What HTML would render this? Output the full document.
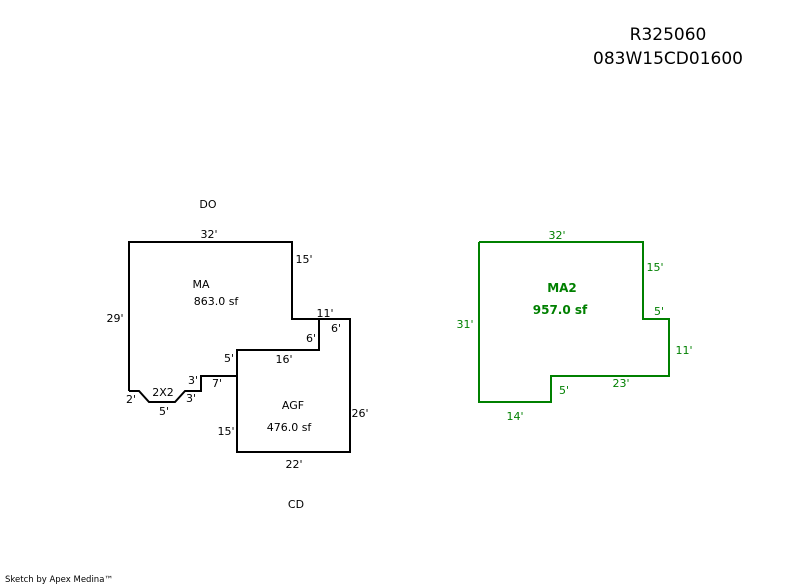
<!DOCTYPE html>
<html><head><meta charset="utf-8"><style>
html,body{margin:0;padding:0;background:#fff;}
svg{display:block;}
text{font-family:"DejaVu Sans","Liberation Sans",sans-serif;font-size:11px;}
.b{fill:#000;}
.g{fill:#008000;}
</style></head><body>
<svg width="800" height="587" viewBox="0 0 800 587" xmlns="http://www.w3.org/2000/svg">
<rect width="800" height="587" fill="#fff"/>
<text x="668" y="40" text-anchor="middle" style="font-size:17px" class="b">R325060</text>
<text x="668" y="64" text-anchor="middle" style="font-size:17px" class="b">083W15CD01600</text>

<polyline fill="none" stroke="#000" stroke-width="2" points="129,391 129,242 292,242 292,319 319,319 319,350 237,350 237,376 201,376 201,391 185,391 175,402 149,402 139,391 129,391"/>
<polyline fill="none" stroke="#000" stroke-width="2" points="292,319 350,319 350,452 237,452 237,350"/>

<g class="b" text-anchor="middle">
<text x="208" y="208">DO</text>
<text x="209" y="238">32'</text>
<text x="304" y="263">15'</text>
<text x="201" y="288">MA</text>
<text x="216" y="305">863.0 sf</text>
<text x="115" y="322">29'</text>
<text x="325" y="317">11'</text>
<text x="336" y="332">6'</text>
<text x="311" y="342">6'</text>
<text x="229" y="362">5'</text>
<text x="284" y="363">16'</text>
<text x="193" y="384">3'</text>
<text x="217" y="387">7'</text>
<text x="163" y="396">2X2</text>
<text x="131" y="403">2'</text>
<text x="191" y="402">3'</text>
<text x="164" y="415">5'</text>
<text x="293" y="409">AGF</text>
<text x="289" y="431">476.0 sf</text>
<text x="226" y="435">15'</text>
<text x="360" y="417">26'</text>
<text x="294" y="468">22'</text>
<text x="296" y="508">CD</text>
</g>

<polyline fill="none" stroke="#008000" stroke-width="2" points="479,242 643,242 643,319 669,319 669,376 551,376 551,402 479,402 479,242"/>
<g class="g" text-anchor="middle">
<text x="557" y="239">32'</text>
<text x="655" y="271">15'</text>
<text x="562" y="292" font-weight="bold" style="font-size:12px">MA2</text>
<text x="560" y="314" font-weight="bold" style="font-size:12px">957.0 sf</text>
<text x="465" y="328">31'</text>
<text x="659" y="315">5'</text>
<text x="684" y="354">11'</text>
<text x="621" y="387">23'</text>
<text x="564" y="394">5'</text>
<text x="515" y="420">14'</text>
</g>

<text x="5" y="582" class="b" style="font-size:8.5px">Sketch by Apex Medina™</text>
</svg>
</body></html>
